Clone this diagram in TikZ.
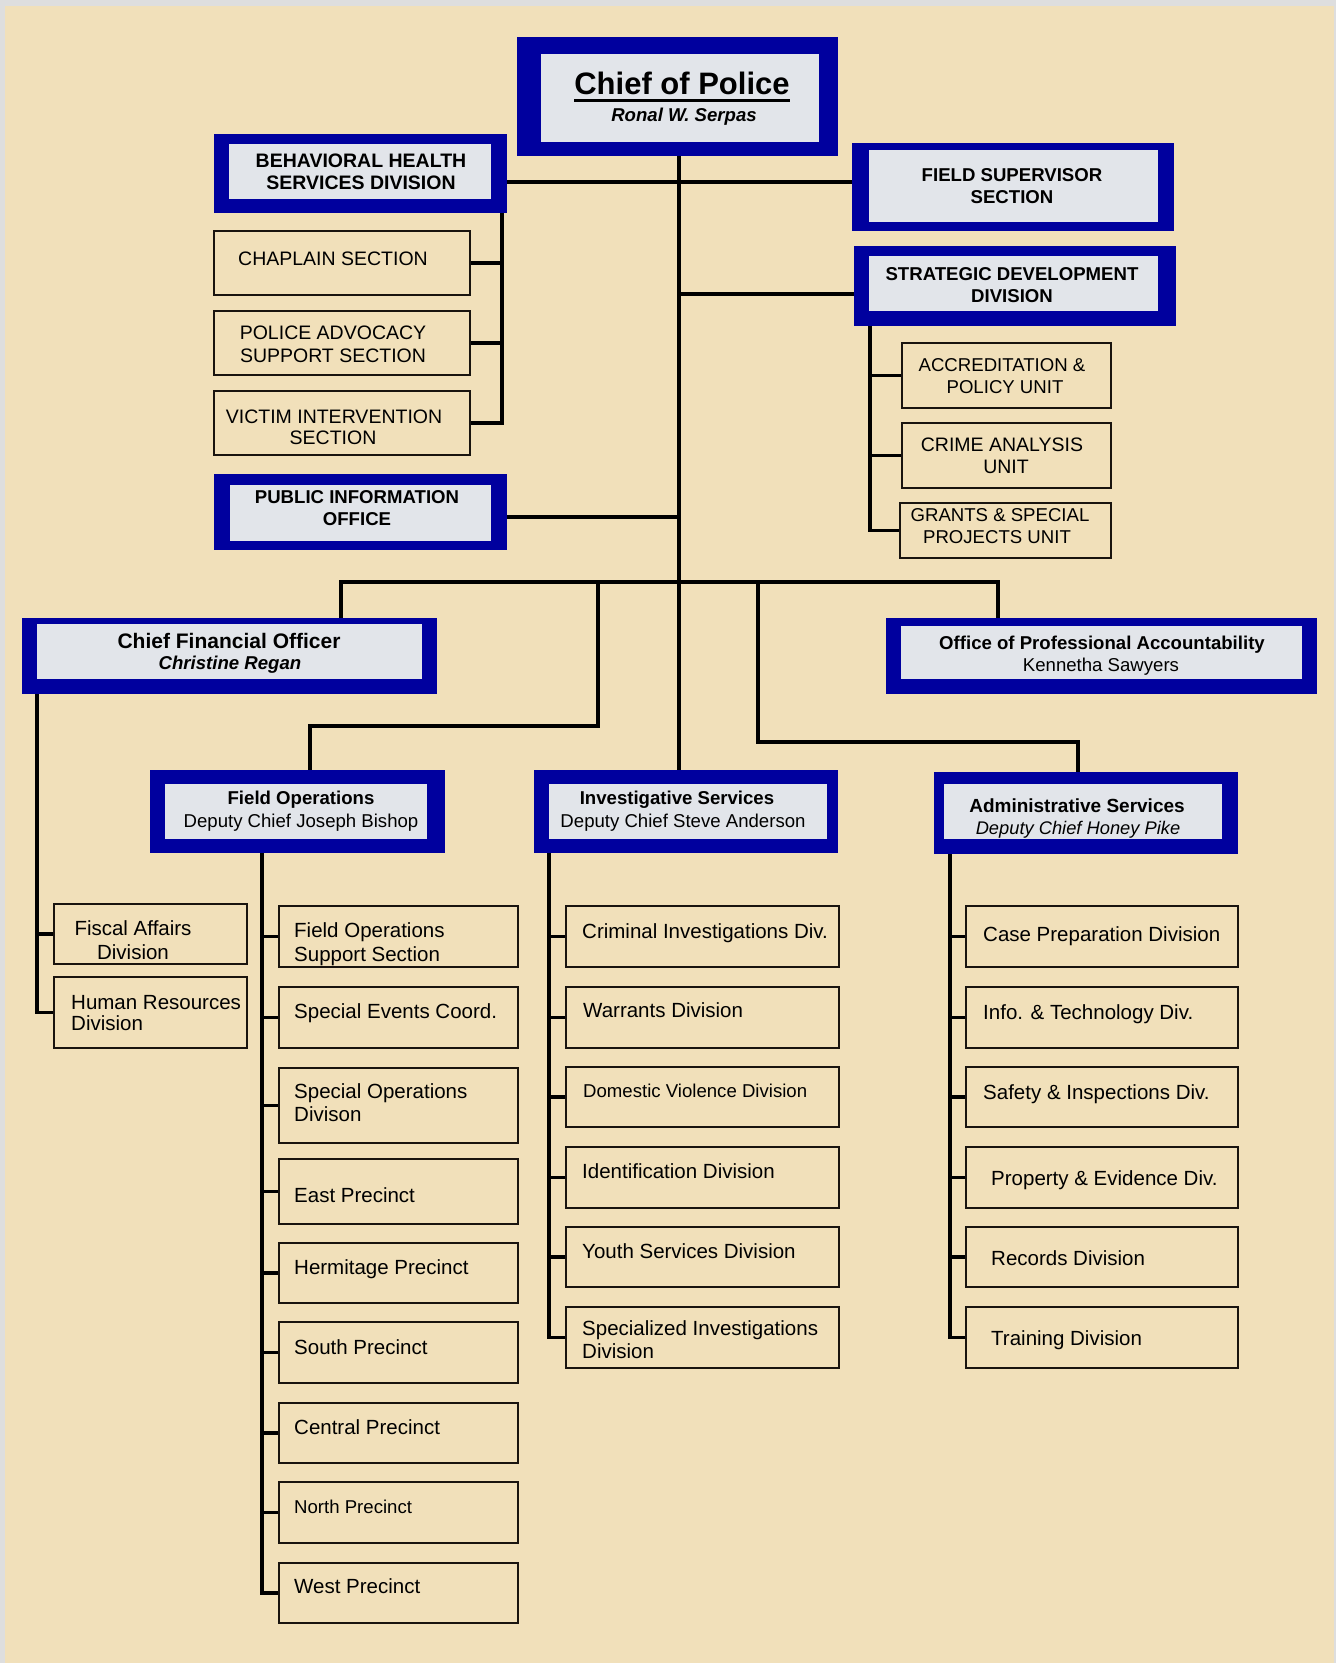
\documentclass[tikz,border=0pt]{standalone}
\usepackage{fontspec}
\setmainfont{Liberation Sans}
\definecolor{hdrblue}{RGB}{0,0,158}
\definecolor{marble}{RGB}{226,229,234}
\definecolor{paper}{RGB}{241,224,186}
\definecolor{edgegray}{RGB}{222,222,222}
\definecolor{boxline}{RGB}{25,20,15}
\newcommand{\fsz}[1]{\fontsize{#1}{#1}\selectfont}
\newcommand{\mkbox}[6]{\node[#1, minimum width={#5pt-#3pt}, minimum height={#6pt-#4pt}] (#2) at (#3,#4) {};}
\newcommand{\mkhdr}[9]{\mkbox{hdrout}{#1}{#2}{#3}{#4}{#5}\mkbox{hdrin}{#1-in}{#6}{#7}{#8}{#9}}
\tikzset{
  hdrout/.style={fill=hdrblue, draw=none, inner sep=0pt, anchor=north west},
  hdrin/.style={fill=marble, draw=none, inner sep=0pt, anchor=north west},
  subbox/.style={draw=boxline, line width=1.8pt, inner sep=0pt, anchor=north west},
  conn/.style={draw=black, line width=3.6pt},
  tx/.style={inner sep=0pt, text=black},
  hbold/.style={tx, font=\fsz{18.6}\bfseries},
  hreg/.style={tx, font=\fsz{18.6}},
  hbi/.style={tx, font=\fsz{18.6}\bfseries\itshape},
  hit/.style={tx, font=\fsz{18.3}\itshape},
  capb/.style={tx, font=\fsz{18.6}\bfseries},
  capr/.style={tx, font=\fsz{19.5}},
  sreg/.style={tx, font=\fsz{20.5}},
  ssm/.style={tx, font=\fsz{18.6}},
}
\begin{document}
\begin{tikzpicture}[x=1pt,y=-1pt]
\useasboundingbox (0,0) rectangle (1336,1663);
\fill[edgegray] (0,0) rectangle (1336,1663);
\fill[paper] (5,6) rectangle (1334,1663);

% ---------- header boxes ----------
\mkhdr{chief}{517}{37}{838}{156}{541}{54}{819}{142}
\mkhdr{bh}{214}{134}{507}{213}{229}{144}{491}{199}
\mkhdr{fs}{852}{143}{1174}{231}{869}{150}{1158}{222}
\mkhdr{sd}{854}{246}{1176}{326}{869}{256}{1158}{311}
\mkhdr{pio}{214}{474}{507}{550}{230}{485}{491}{541}
\mkhdr{cfo}{22}{618}{437}{694}{37}{624}{422}{679}
\mkhdr{opa}{886}{618}{1317}{694}{901}{626}{1302}{679}
\mkhdr{fo}{150}{770}{445}{853}{165}{784}{427}{839}
\mkhdr{inv}{534}{770}{838}{853}{549}{784}{827}{839}
\mkhdr{ad}{934}{772}{1238}{854}{944}{784}{1222}{839}

% ---------- sub boxes ----------
\mkbox{subbox}{chap}{213}{230}{469}{294}
\mkbox{subbox}{pa}{213}{310}{469}{374}
\mkbox{subbox}{vi}{213}{390}{469}{454}
\mkbox{subbox}{acc}{901}{342}{1110}{407}
\mkbox{subbox}{ca}{901}{422}{1110}{487}
\mkbox{subbox}{gr}{899}{502}{1110}{557}
\mkbox{subbox}{fa}{53}{903}{246}{963}
\mkbox{subbox}{hr}{53}{976}{246}{1047}
\mkbox{subbox}{fo1}{278}{905}{517}{966}
\mkbox{subbox}{fo2}{278}{986}{517}{1047}
\mkbox{subbox}{fo3}{278}{1067}{517}{1142}
\mkbox{subbox}{fo4}{278}{1158}{517}{1223}
\mkbox{subbox}{fo5}{278}{1242}{517}{1302}
\mkbox{subbox}{fo6}{278}{1321}{517}{1382}
\mkbox{subbox}{fo7}{278}{1402}{517}{1462}
\mkbox{subbox}{fo8}{278}{1481}{517}{1542}
\mkbox{subbox}{fo9}{278}{1562}{517}{1622}
\mkbox{subbox}{iv1}{565}{905}{838}{966}
\mkbox{subbox}{iv2}{565}{986}{838}{1047}
\mkbox{subbox}{iv3}{565}{1066}{838}{1126}
\mkbox{subbox}{iv4}{565}{1146}{838}{1207}
\mkbox{subbox}{iv5}{565}{1226}{838}{1286}
\mkbox{subbox}{iv6}{565}{1306}{838}{1367}
\mkbox{subbox}{ad1}{965}{905}{1237}{966}
\mkbox{subbox}{ad2}{965}{986}{1237}{1047}
\mkbox{subbox}{ad3}{965}{1066}{1237}{1126}
\mkbox{subbox}{ad4}{965}{1146}{1237}{1207}
\mkbox{subbox}{ad5}{965}{1226}{1237}{1286}
\mkbox{subbox}{ad6}{965}{1306}{1237}{1367}

% ---------- connectors ----------
\coordinate (trunk) at (679,156);
\draw[conn] (trunk) -- (trunk |- inv.north);
\coordinate (bhy) at (0,182);
\draw[conn] (bh.east |- bhy) -- (fs.west |- bhy);
\coordinate (sdy) at (0,294);
\draw[conn] (trunk |- sdy) -- (sd.west |- sdy);
\coordinate (pioy) at (0,517);
\draw[conn] (pio.east |- pioy) -- (trunk |- pioy);

\coordinate (bhx) at (502,0);
\draw[conn] (bhx |- bh.south) |- (vi.east);
\draw[conn] (bhx |- chap.east) -- (chap.east);
\draw[conn] (bhx |- pa.east) -- (pa.east);

\coordinate (sdx) at (870,0);
\draw[conn] (sdx |- sd.south) |- (gr.west);
\draw[conn] (sdx |- acc.west) -- (acc.west);
\draw[conn] (sdx |- ca.west) -- (ca.west);

\coordinate (busL) at (341,582);
\coordinate (busR) at (998,582);
\draw[conn] (busL |- cfo.north) -- (busL) -- (busR) -- (busR |- opa.north);
\coordinate (foA) at (598,582);
\coordinate (foB) at (310,726);
\draw[conn] (foA) |- (foB) -- (foB |- fo.north);
\coordinate (adA) at (758,582);
\coordinate (adB) at (1078,742);
\draw[conn] (adA) |- (adB) -- (adB |- ad.north);

\coordinate (cfox) at (37,0);
\draw[conn] (cfox |- cfo.south) |- (hr.west);
\draw[conn] (cfox |- fa.west) -- (fa.west);

\coordinate (fox) at (262,0);
\draw[conn] (fox |- fo.south) |- (fo9.west);
\foreach \b in {fo1,fo2,fo3,fo4,fo5,fo6,fo7,fo8}
  \draw[conn] (fox |- \b.west) -- (\b.west);

\coordinate (ivx) at (549,0);
\draw[conn] (ivx |- inv.south) |- (iv6.west);
\foreach \b in {iv1,iv2,iv3,iv4,iv5}
  \draw[conn] (ivx |- \b.west) -- (\b.west);

\coordinate (adx) at (950,0);
\draw[conn] (adx |- ad.south) |- (ad6.west);
\foreach \b in {ad1,ad2,ad3,ad4,ad5}
  \draw[conn] (adx |- \b.west) -- (\b.west);

% ---------- header texts ----------
\node[tx, font=\fsz{31}\bfseries, anchor=base] (ct1) at (682,94) {Chief of Police};
\draw[line width=3pt] ([yshift=-6pt]ct1.base west) -- ([yshift=-6pt]ct1.base east);
\node[hbi, anchor=base] (ct2) at (684,121) {Ronal W. Serpas};

\node[tx, font=\fsz{19.5}\bfseries, anchor=base] (bht1) at (361,167) {BEHAVIORAL HEALTH};
\node[tx, font=\fsz{19.5}\bfseries, anchor=base] (bht2) at (361,189) {SERVICES DIVISION};
\node[capb, anchor=base] (fst1) at (1012,181) {FIELD SUPERVISOR};
\node[capb, anchor=base] (fst2) at (1012,203) {SECTION};
\node[capb, anchor=base] (sdt1) at (1012,280) {STRATEGIC DEVELOPMENT};
\node[capb, anchor=base] (sdt2) at (1012,302) {DIVISION};
\node[capb, anchor=base] (piot1) at (357,503) {PUBLIC INFORMATION};
\node[capb, anchor=base] (piot2) at (357,525) {OFFICE};

\node[tx, font=\fsz{21}\bfseries, anchor=base] (cfot1) at (229,648) {Chief Financial Officer};
\node[hbi, anchor=base] (cfot2) at (230,669) {Christine Regan};
\node[hbold, anchor=base] (opat1) at (1102,649) {Office of Professional Accountability};
\node[hreg, anchor=base] (opat2) at (1101,671) {Kennetha Sawyers};
\node[hbold, anchor=base] (fot1) at (301,804) {Field Operations};
\node[hreg, anchor=base] (fot2) at (301,827) {Deputy Chief Joseph Bishop};
\node[hbold, anchor=base] (invt1) at (677,804) {Investigative Services};
\node[hreg, anchor=base] (invt2) at (683,827) {Deputy Chief Steve Anderson};
\node[tx, font=\fsz{19}\bfseries, anchor=base] (adt1) at (1077,812) {Administrative Services};
\node[hit, anchor=base] (adt2) at (1078,834) {Deputy Chief Honey Pike};

% ---------- sub box texts ----------
\node[capr, anchor=base] (chapt) at (333,265) {CHAPLAIN SECTION};
\node[capr, anchor=base] (pat1) at (333,339) {POLICE ADVOCACY};
\node[capr, anchor=base] (pat2) at (333,362) {SUPPORT SECTION};
\node[capr, anchor=base] (vit1) at (334,423) {VICTIM INTERVENTION};
\node[capr, anchor=base] (vit2) at (333,444) {SECTION};
\node[ssm, anchor=base] (acct1) at (1002,371) {ACCREDITATION \&};
\node[ssm, anchor=base] (acct2) at (1005,393) {POLICY UNIT};
\node[capr, anchor=base] (cat1) at (1002,451) {CRIME ANALYSIS};
\node[capr, anchor=base] (cat2) at (1006,473) {UNIT};
\node[ssm, anchor=base] (grt1) at (1000,521) {GRANTS \& SPECIAL};
\node[ssm, anchor=base] (grt2) at (997,543) {PROJECTS UNIT};

\node[sreg, anchor=base] (fat1) at (133,935) {Fiscal Affairs};
\node[sreg, anchor=base] (fat2) at (133,959) {Division};
\node[sreg, anchor=base west] (hrt1) at (71,1009) {Human Resources};
\node[sreg, anchor=base west] (hrt2) at (71,1030) {Division};

\node[sreg, anchor=base west] (fo1a) at (294,937) {Field Operations};
\node[sreg, anchor=base west] (fo1b) at (294,961) {Support Section};
\node[sreg, anchor=base west] (fo2t) at (294,1018) {Special Events Coord.};
\node[sreg, anchor=base west] (fo3a) at (294,1098) {Special Operations};
\node[sreg, anchor=base west] (fo3b) at (294,1121) {Divison};
\node[sreg, anchor=base west] (fo4t) at (294,1202) {East Precinct};
\node[sreg, anchor=base west] (fo5t) at (294,1274) {Hermitage Precinct};
\node[sreg, anchor=base west] (fo6t) at (294,1354) {South Precinct};
\node[sreg, anchor=base west] (fo7t) at (294,1434) {Central Precinct};
\node[ssm, anchor=base west] (fo8t) at (294,1513) {North Precinct};
\node[sreg, anchor=base west] (fo9t) at (294,1593) {West Precinct};

\node[sreg, anchor=base west] (iv1t) at (582,938) {Criminal Investigations Div.};
\node[sreg, anchor=base west] (iv2t) at (583,1017) {Warrants Division};
\node[ssm, anchor=base west] (iv3t) at (583,1097) {Domestic Violence Division};
\node[sreg, anchor=base west] (iv4t) at (582,1178) {Identification Division};
\node[sreg, anchor=base west] (iv5t) at (582,1258) {Youth Services Division};
\node[sreg, anchor=base west] (iv6a) at (582,1335) {Specialized Investigations};
\node[sreg, anchor=base west] (iv6b) at (582,1358) {Division};

\node[sreg, anchor=base west] (ad1t) at (983,941) {Case Preparation Division};
\node[sreg, anchor=base west] (ad2t) at (983,1019) {Info. \& Technology Div.};
\node[sreg, anchor=base west] (ad3t) at (983,1099) {Safety \& Inspections Div.};
\node[sreg, anchor=base west] (ad4t) at (991,1185) {Property \& Evidence Div.};
\node[sreg, anchor=base west] (ad5t) at (991,1265) {Records Division};
\node[sreg, anchor=base west] (ad6t) at (991,1345) {Training Division};
\end{tikzpicture}
\end{document}
